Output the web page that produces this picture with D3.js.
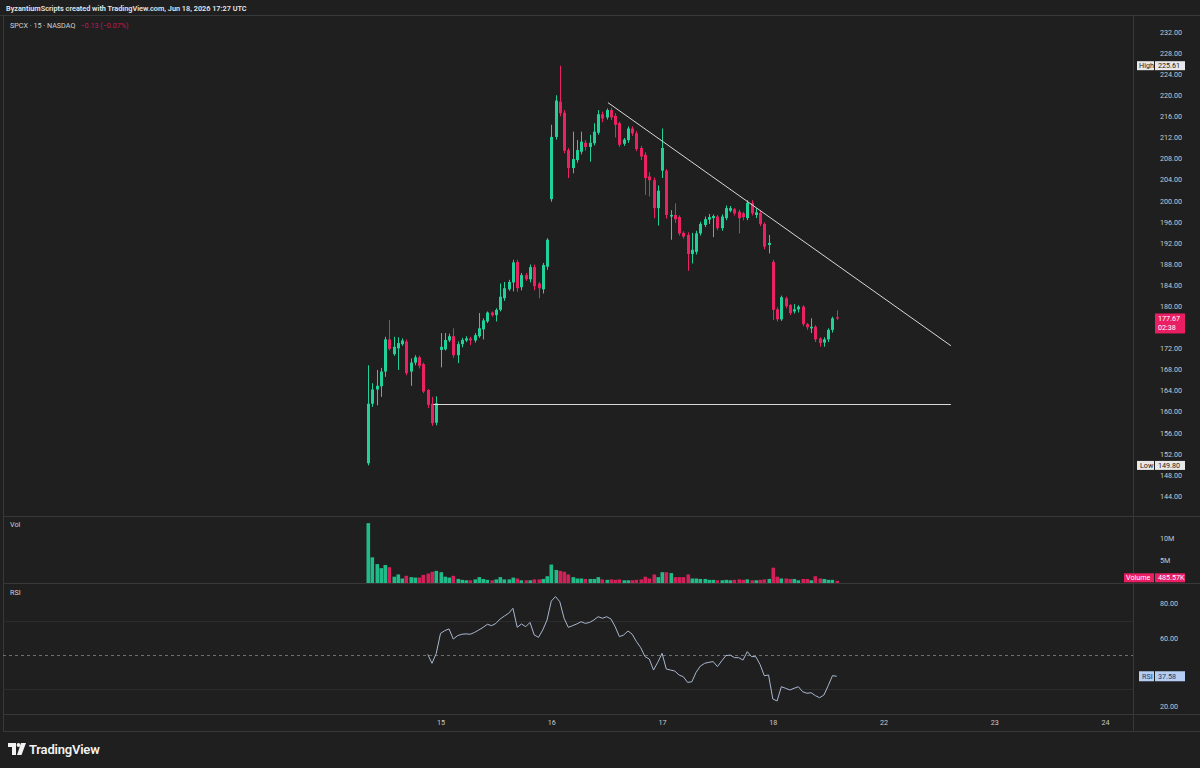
<!DOCTYPE html>
<html><head><meta charset="utf-8">
<script src="https://cdn.jsdelivr.net/npm/d3@7"></script>
<style>
html,body{margin:0;padding:0;background:#1f1f1f;}
svg{display:block;font-family:Roboto,"Liberation Sans",Arial,sans-serif;}
</style></head>
<body><svg id="c" width="1200" height="768"></svg>
<script>
// ---------- DATA ----------
const opens = [150.2,161.5,164.2,164.8,167.6,173.7,170.9,172.0,172.8,173.3,167.6,169.3,170.3,169.0,164.1,161.5,157.9,
171.7,171.8,173.5,174.3,170.7,172.8,173.5,173.9,173.5,174.3,175.6,177.1,178.8,178.3,179.3,181.5,183.2,184.5,188.4,183.6,185.9,185.1,187.4,184.3,183.2,187.5,
200.3,212.1,218.8,216.7,209.6,206.2,207.7,209.3,211.0,210.2,210.9,212.9,216.4,215.8,217.2,216.1,214.7,210.8,211.5,213.7,212.8,210.0,208.7,204.6,203.9,198.6,
205.7,205.7,197.0,197.3,196.9,193.9,193.5,189.9,190.3,193.8,195.4,196.4,196.7,197.0,194.8,196.7,198.1,198.4,197.9,197.6,196.7,199.6,197.3,197.7,195.6,191.6,
188.4,179.4,177.5,181.5,180.2,179.0,179.4,179.9,176.6,175.8,176.1,173.9,173.1,173.7,175.5,177.9];
const highs = [168.8,165.4,167.9,168.3,174.2,177.4,174.2,174.1,173.9,173.7,170.1,170.7,170.6,169.3,164.3,162.8,162.9,
174.9,174.9,174.8,175.8,173.3,174.0,174.3,174.2,174.9,178.7,177.7,179.0,179.0,179.6,184.3,184.6,185.0,188.8,188.8,186.3,186.3,187.9,187.9,184.6,188.2,192.9,
214.4,220.0,225.61,217.2,210.0,213.1,211.5,213.1,211.5,212.5,214.7,217.2,216.9,217.5,217.6,216.6,215.0,211.9,214.1,214.1,213.2,210.4,209.2,205.4,204.4,202.9,
213.7,206.0,198.2,199.5,197.2,194.2,194.0,193.9,194.3,196.0,197.0,197.5,197.4,197.3,197.4,199.1,199.0,198.6,198.3,197.9,200.1,200.1,198.6,198.2,195.9,193.5,
188.8,179.8,182.0,181.8,180.4,180.4,180.2,180.2,176.8,177.7,176.4,174.1,174.1,175.8,178.0,179.2];
const lows = [149.8,160.9,161.2,162.8,166.6,171.6,170.6,167.9,172.5,166.9,164.9,168.8,168.2,163.5,160.7,157.3,157.4,
168.4,171.6,173.2,170.2,169.2,172.2,173.2,172.6,173.1,174.0,173.7,176.8,178.0,177.1,179.0,181.0,182.9,182.8,182.7,183.0,184.8,184.5,183.0,181.5,182.4,186.9,
199.8,211.6,216.0,209.0,204.3,205.2,207.2,208.8,209.5,207.4,210.5,212.5,214.9,215.4,215.3,212.0,210.2,210.4,211.0,212.3,209.4,207.7,201.1,200.8,196.7,195.3,
204.3,196.6,192.6,195.8,193.4,192.8,186.7,188.1,189.8,193.4,195.0,195.6,193.1,194.4,194.3,196.3,197.8,197.2,193.8,196.3,196.3,197.2,196.7,195.2,190.8,190.0,
177.4,177.1,177.2,179.6,178.3,178.6,178.8,176.2,175.5,174.9,173.2,172.3,172.3,173.2,175.0,177.4];
const closes = [161.5,164.2,164.9,167.6,173.7,171.9,172.3,173.0,173.5,167.3,169.3,170.3,168.7,163.8,161.3,157.8,161.6,
172.3,173.6,174.3,170.7,172.8,173.6,173.9,173.5,174.5,175.8,177.3,178.8,178.3,179.3,181.8,183.4,184.6,188.3,183.4,185.9,185.1,187.4,183.8,183.4,187.8,192.6,
212.1,219.0,216.6,209.5,206.2,207.9,209.6,211.2,210.2,211.0,213.1,216.4,215.6,217.2,215.8,214.4,210.6,211.6,213.7,212.8,209.8,208.4,204.3,203.9,198.6,201.9,
210.0,197.3,197.3,196.5,193.8,193.2,189.9,190.7,193.8,195.6,196.5,196.9,197.1,194.8,197.0,198.6,198.6,197.6,196.7,196.9,199.6,197.6,197.8,195.6,191.3,192.0,
179.3,177.5,181.7,180.0,178.7,179.4,179.9,176.6,176.0,176.1,173.7,173.0,173.7,175.5,177.7,177.67];
const volumesM = [13.3,5.7,4.2,3.3,4.0,3.5,1.4,1.9,1.0,1.6,1.3,1.2,1.2,1.8,2.1,2.5,2.7,2.4,1.4,1.2,
1.6,0.9,0.7,0.6,0.6,0.8,1.3,0.9,0.7,0.6,0.8,1.3,0.8,0.8,1.2,1.0,0.6,0.6,0.6,0.8,
0.8,0.9,1.5,4.1,2.9,2.7,2.5,1.9,1.3,1.0,1.0,0.9,0.9,0.9,1.3,0.8,0.7,0.8,0.7,0.8,
0.6,0.6,0.6,0.7,0.8,1.4,1.0,1.9,1.3,2.4,2.4,2.2,1.3,1.3,1.3,1.9,1.0,1.0,0.9,0.9,
0.7,0.7,0.6,0.6,0.7,0.6,0.7,0.8,0.7,0.8,0.6,0.6,0.7,0.8,0.9,3.4,1.4,1.0,1.0,0.9,
0.9,0.6,0.9,0.9,0.6,1.5,1.0,0.9,0.7,0.7,0.486];
const rsiStart = 14;
const rsiValues = [50.3,45.1,50.9,62.5,64.1,65.1,59.2,61.2,62.0,62.2,
62.0,63.1,64.5,66.0,67.8,67.0,68.3,70.9,72.6,74.2,
77.1,66.0,68.0,66.4,68.9,61.6,60.2,64.5,70.3,81.3,
83.9,80.9,71.3,66.0,67.0,68.0,69.3,68.3,68.9,70.3,
72.2,71.3,72.2,70.9,66.4,60.6,61.6,63.9,62.0,57.7,
54.2,49.0,47.6,41.2,45.7,50.9,41.8,41.2,40.6,38.3,
37.3,34.0,34.4,39.9,43.5,45.1,45.7,46.1,43.2,46.5,
49.6,49.9,48.4,48.4,47.0,51.9,49.0,49.0,44.5,37.9,
38.3,24.4,23.2,31.5,30.6,29.6,30.6,31.5,28.6,27.7,
28.0,26.3,25.1,26.7,32.1,37.9,37.58];
const dayTickBars = [17,43,69,95,121,147,173];
const dayTickLabels = ["15","16","17","18","22","23","24"];
const priceTicks = d3.range(144, 233, 4);
const volumeTicks = [5,10];
const volumeTickLabels = ["5M","10M"];
const rsiTicks = [20,40,60,80];
const rsiBands = [70,50,30];
const trendLineBars = [56.3,136.8];
const trendLinePrices = [218.6,172.5];
const hLineBars = [15.3,136.8];
const hLinePrice = 161.4;
const highValue = 225.61, lowValue = 149.80, lastPrice = 177.67;
const lastVolumeLabel = "485.57K", lastRsi = 37.58, countdown = "02:38";

// ---------- LAYOUT ----------
const svg = d3.select("#c");
const W = 1200, H = 768;
const left = 3, axisX = 1133;
const upC = "#22d19a", dnC = "#ea2261", pinkLbl = "#e91e63";
const txtC = "#c9c9c9", sepC = "#383838";

const x = d3.scaleLinear().domain([0,173]).range([368.1,1105.1]);
const yP = d3.scaleLinear().domain([144,232]).range([496,32]);
const yV = d3.scaleLinear().domain([0,10]).range([583,538]);
const yR = d3.scaleLinear().domain([20,80]).range([706.5,603.3]);

svg.append("rect").attr("width",W).attr("height",H).attr("fill","#1f1f1f");

// header
svg.append("text").attr("x",6).attr("y",11).attr("fill","#e6e6e6").attr("font-size",7.3).attr("font-weight",600)
  .text("ByzantiumScripts created with TradingView.com, Jun 18, 2026 17:27 UTC");
svg.append("line").attr("x1",0).attr("x2",W).attr("y1",15.5).attr("y2",15.5).attr("stroke",sepC);
const hdr = svg.append("text").attr("x",10).attr("y",28).attr("font-size",7.2).attr("fill","#d0d0d0");
hdr.append("tspan").text("SPCX · 15 · NASDAQ");
hdr.append("tspan").attr("dx",5).attr("fill","#c2185b").text("−0.13 (−0.07%)");

// frame lines
svg.append("line").attr("x1",left+0.5).attr("x2",left+0.5).attr("y1",15.5).attr("y2",731).attr("stroke",sepC);
svg.append("line").attr("x1",axisX+0.5).attr("x2",axisX+0.5).attr("y1",15.5).attr("y2",731).attr("stroke",sepC);
[516.5,583.5,714.5,731.5].forEach(yy=>svg.append("line").attr("x1",left).attr("x2",W).attr("y1",yy).attr("y2",yy).attr("stroke",sepC));

// pane labels
svg.append("text").attr("x",10).attr("y",527).attr("font-size",7.2).attr("fill","#d0d0d0").text("Vol");
svg.append("text").attr("x",10).attr("y",595).attr("font-size",7.2).attr("fill","#d0d0d0").text("RSI");

// ---------- CANDLES ----------
const bars = d3.range(closes.length).map(i=>({i,o:opens[i],h:highs[i],l:lows[i],c:closes[i],v:volumesM[i]}));
const cg = svg.append("g");
cg.selectAll("line.w").data(bars).join("line")
  .attr("x1",d=>Math.round(x(d.i))+0.5).attr("x2",d=>Math.round(x(d.i))+0.5)
  .attr("y1",d=>yP(d.h)).attr("y2",d=>yP(d.l))
  .attr("stroke",d=>d.c>=d.o?upC:dnC).attr("stroke-width",1);
cg.selectAll("rect.b").data(bars).join("rect")
  .attr("x",d=>Math.round(x(d.i))-1).attr("width",3)
  .attr("y",d=>yP(Math.max(d.o,d.c)))
  .attr("height",d=>Math.max(1,Math.abs(yP(d.o)-yP(d.c))))
  .attr("fill",d=>d.c>=d.o?upC:dnC);

// drawings
svg.append("line").attr("x1",x(trendLineBars[0])).attr("y1",yP(trendLinePrices[0]))
  .attr("x2",x(trendLineBars[1])).attr("y2",yP(trendLinePrices[1])).attr("stroke","#d8d8d8").attr("stroke-width",1);
svg.append("line").attr("x1",x(hLineBars[0])).attr("y1",Math.round(yP(hLinePrice))+0.5)
  .attr("x2",x(hLineBars[1])).attr("y2",Math.round(yP(hLinePrice))+0.5).attr("stroke","#d8d8d8").attr("stroke-width",1);

// ---------- VOLUME ----------
svg.append("g").selectAll("rect").data(bars).join("rect")
  .attr("x",d=>Math.round(x(d.i))-1.5).attr("width",3.6)
  .attr("y",d=>yV(d.v)).attr("height",d=>yV(0)-yV(d.v))
  .attr("fill",d=>d.c>=d.o?upC:dnC).attr("opacity",0.88);

// ---------- RSI ----------
rsiBands.forEach(b=>{
  svg.append("line").attr("x1",left).attr("x2",axisX).attr("y1",Math.round(yR(b))+0.5).attr("y2",Math.round(yR(b))+0.5)
    .attr("stroke",b===50?"#6e6e6e":"#2c2c2c").attr("stroke-dasharray",b===50?"3,3":null);
});
const rsiPts = rsiValues.map((v,k)=>[x(rsiStart+k),yR(v)]);
svg.append("path").attr("d",d3.line()(rsiPts)).attr("fill","none").attr("stroke","#a9b7d0").attr("stroke-width",1);

// ---------- AXES ----------
// price ticks that sit fully under the last-price label are hidden (as in the reference)
const lastBoxTop = yP(lastPrice)-5, lastBoxBot = yP(lastPrice)+15;
const shownPriceTicks = priceTicks.filter(t=>!(yP(t)>lastBoxTop-3 && yP(t)<lastBoxBot+3));
const shownRsiTicks = rsiTicks.filter(t=>Math.abs(yR(t)-yR(lastRsi))>8);
const axP = svg.append("g").attr("transform",`translate(1160,0)`)
  .call(d3.axisRight(yP).tickValues(shownPriceTicks).tickFormat(d3.format(".2f")).tickSize(0).tickPadding(0));
const axV = svg.append("g").attr("transform",`translate(1160,0)`)
  .call(d3.axisRight(yV).tickValues(volumeTicks).tickFormat((d,k)=>volumeTickLabels[k]).tickSize(0).tickPadding(0));
const axR = svg.append("g").attr("transform",`translate(1160,0)`)
  .call(d3.axisRight(yR).tickValues(shownRsiTicks).tickFormat(d3.format(".2f")).tickSize(0).tickPadding(0));
const axT = svg.append("g").attr("transform",`translate(0,723)`)
  .call(d3.axisBottom(x).tickValues(dayTickBars).tickFormat((d,k)=>dayTickLabels[k]).tickSize(0).tickPadding(0));
[axP,axV,axR,axT].forEach(g=>{
  g.select(".domain").remove();
  g.selectAll("text").attr("fill",txtC).attr("font-size",7.2).attr("font-family","Roboto,Liberation Sans,Arial");
});
axT.selectAll("text").attr("dy","0.32em");

// ---------- LABEL BOXES ----------
function box(x0,yc,w,h,fill,text,tc,opts={}){
  svg.append("rect").attr("x",x0).attr("y",yc-h/2).attr("width",w).attr("height",h).attr("fill",fill).attr("rx",opts.rx||0);
  svg.append("text").attr("x",x0+(opts.pad||2)).attr("y",yc).attr("dy","0.35em").attr("font-size",opts.fs||7.2)
    .attr("fill",tc).attr("font-weight",opts.fw||400).text(text);
}
box(1137,yP(highValue),17,9,"#e8e8e8","High","#222");
box(1155,yP(highValue),30,9,"#e8e8e8",d3.format(".2f")(highValue),"#222",{pad:3});
box(1137,yP(lowValue),17,9,"#e8e8e8","Low","#222",{pad:3});
box(1155,yP(lowValue),30,9,"#e8e8e8",d3.format(".2f")(lowValue),"#222",{pad:3});
// last price
svg.append("rect").attr("x",1155).attr("y",lastBoxTop).attr("width",30).attr("height",20).attr("fill",pinkLbl);
svg.append("text").attr("x",1158).attr("y",yP(lastPrice)+0.5).attr("dy","0.35em").attr("font-size",7.2).attr("fill","#fff").text(d3.format(".2f")(lastPrice));
svg.append("text").attr("x",1158).attr("y",yP(lastPrice)+9.5).attr("dy","0.35em").attr("font-size",7.2).attr("fill","#fff").text(countdown);
// volume label
box(1124,yV(volumesM[volumesM.length-1])-3,30,9,pinkLbl,"Volume","#fff",{pad:2});
box(1155,yV(volumesM[volumesM.length-1])-3,30,9,pinkLbl,lastVolumeLabel,"#fff",{pad:3});
// RSI label
box(1139,yR(lastRsi),15,10,"#b5cdf2","RSI","#1a3a6a",{pad:3});
box(1155,yR(lastRsi),30,10,"#b5cdf2",d3.format(".2f")(lastRsi),"#1a3a6a",{pad:3});

// ---------- LOGO ----------
const lg = svg.append("g").attr("fill","#f2f2f2");
lg.append("path").attr("d","M8,743 H16 V755 H12 V747 H8 Z");
lg.append("circle").attr("cx",18.5).attr("cy",745).attr("r",1.9);
lg.append("path").attr("d","M21,743 H26 L21.5,755 H17 Z");
svg.append("text").attr("x",29).attr("y",754).attr("font-size",13).attr("font-weight",600).attr("fill","#f2f2f2")
  .attr("letter-spacing",-0.2).text("TradingView");
</script></body></html>
